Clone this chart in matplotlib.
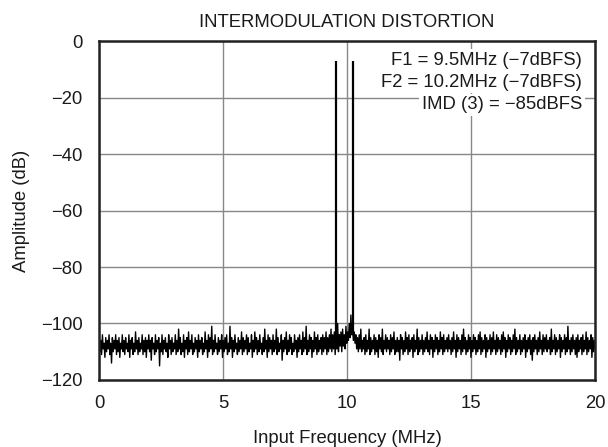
import numpy as np
import matplotlib.pyplot as plt

plt.rcParams['font.family'] = ['Liberation Sans', 'DejaVu Sans']

# noise floor, 30 bins per MHz (0 to 20 MHz)
noise_db = [
    -105, -110, -106, -111, -104, -109, -107, -112, -105, -110, -106, -109, -104, -111, -107, -114, -105, -110, -106, -109, -104, -111, -106, -110, -105, -112, -107, -109, -104, -110,
    -106, -111, -105, -109, -107, -110, -104, -112, -106, -109, -105, -111, -107, -110, -103, -109, -106, -111, -105, -110, -107, -109, -104, -111, -106, -110, -105, -112, -106, -109,
    -104, -110, -106, -113, -105, -109, -107, -111, -104, -110, -106, -109, -105, -115, -107, -110, -104, -111, -106, -109, -105, -110, -107, -112, -104, -109, -106, -111, -105, -110,
    -107, -109, -104, -111, -106, -110, -102, -109, -105, -111, -107, -110, -104, -112, -106, -109, -105, -111, -103, -110, -106, -109, -104, -111, -107, -110, -105, -109, -106, -112,
    -104, -110, -106, -109, -105, -111, -107, -110, -103, -109, -106, -112, -104, -110, -105, -109, -101, -111, -106, -110, -104, -109, -107, -111, -105, -110, -106, -109, -104, -112,
    -106, -110, -105, -109, -104, -111, -107, -110, -101, -109, -105, -112, -106, -110, -104, -109, -107, -111, -105, -110, -106, -109, -103, -111, -105, -110, -106, -109, -104, -111,
    -105, -110, -107, -109, -104, -112, -106, -110, -103, -109, -105, -111, -106, -110, -104, -109, -107, -111, -105, -110, -102, -109, -106, -112, -104, -110, -105, -109, -106, -111,
    -104, -110, -106, -109, -102, -111, -105, -110, -107, -109, -104, -113, -106, -110, -105, -109, -103, -111, -106, -110, -104, -109, -105, -111, -107, -110, -104, -109, -106, -112,
    -105, -110, -104, -109, -106, -111, -103, -110, -105, -109, -101, -111, -106, -110, -104, -109, -105, -112, -106, -110, -103, -109, -105, -111, -104, -110, -106, -109, -105, -111,
    -104, -110, -105, -109, -103, -111, -105, -110, -104, -109, -102, -110, -104, -109, -103, -111, -105, -109, -100, -110, -104, -108, -103, -110, -102, -108, -104, -109, -101, -107,
    -103, -106, -100, -105, -97, -104, -102, -106, -103, -107, -104, -109, -105, -110, -104, -109, -102, -110, -106, -109, -105, -111, -104, -110, -106, -109, -102, -111, -105, -110,
    -106, -109, -104, -111, -105, -110, -106, -112, -104, -109, -105, -110, -102, -111, -106, -109, -104, -110, -105, -109, -106, -111, -104, -110, -105, -109, -103, -111, -106, -110,
    -105, -110, -106, -113, -104, -109, -105, -111, -106, -110, -103, -109, -105, -111, -104, -110, -106, -109, -105, -112, -104, -110, -106, -109, -102, -111, -105, -110, -106, -109,
    -104, -111, -106, -110, -105, -109, -103, -110, -106, -111, -104, -109, -105, -112, -106, -110, -104, -109, -105, -111, -106, -110, -103, -109, -105, -111, -104, -110, -106, -109,
    -105, -110, -104, -109, -106, -111, -105, -110, -103, -109, -106, -112, -104, -110, -105, -109, -106, -111, -104, -110, -102, -109, -105, -111, -106, -110, -104, -109, -105, -112,
    -106, -110, -104, -109, -105, -111, -106, -110, -104, -109, -103, -111, -105, -110, -106, -109, -104, -112, -105, -110, -106, -109, -104, -111, -105, -110, -103, -109, -106, -111,
    -104, -110, -105, -109, -106, -111, -104, -110, -103, -109, -105, -112, -106, -110, -104, -109, -105, -111, -106, -110, -104, -109, -102, -111, -105, -110, -106, -109, -104, -111,
    -106, -110, -105, -109, -104, -112, -106, -110, -105, -109, -104, -111, -106, -113, -105, -110, -104, -109, -106, -111, -105, -110, -103, -109, -106, -111, -104, -110, -105, -109,
    -104, -110, -106, -109, -105, -111, -102, -110, -106, -109, -104, -111, -105, -110, -106, -109, -104, -112, -105, -110, -106, -109, -104, -111, -105, -110, -101, -109, -106, -111,
    -105, -110, -104, -109, -106, -111, -105, -112, -104, -110, -106, -109, -105, -111, -104, -110, -106, -109, -103, -111, -105, -110, -106, -109, -104, -112, -105, -110, -106, -109,
]
noise_freq = np.linspace(0, 20, len(noise_db))

# the two input tones
tone_freq = [9.55, 10.22]
tone_db = [-7, -7]
tone_base = [-105, -104]

notes = ['F1 = 9.5MHz (\u22127dBFS)', 'F2 = 10.2MHz (\u22127dBFS)', 'IMD (3) = \u221285dBFS']

fs = 13.3
ink = '#1a1a1a'

fig = plt.figure(figsize=(6.08, 4.47), dpi=100)
ax = fig.add_axes([0.163, 0.150, 0.816, 0.758])

ax.plot(noise_freq, noise_db, color='black', lw=1.0)
ax.vlines(tone_freq, tone_base, tone_db, color='black', lw=1.6)

ax.set_xlim(0, 20)
ax.set_ylim(-120, 0)
ax.set_xticks([0, 5, 10, 15, 20])
ax.set_yticks(range(-120, 1, 20))
ax.set_yticklabels(['\u2212120', '\u2212100', '\u221280', '\u221260', '\u221240', '\u221220', '0'])
ax.tick_params(length=0, labelsize=fs, colors=ink)
ax.tick_params(axis='x', pad=11)
ax.tick_params(axis='y', pad=12)
ax.grid(True, color='#888888', lw=1)
ax.set_axisbelow(True)
for s in ax.spines.values():
    s.set_linewidth(1.8)
    s.set_color('#222222')

ax.set_xlabel('Input Frequency (MHz)', fontsize=fs, color=ink, labelpad=13)
ax.set_ylabel('Amplitude (dB)', fontsize=fs, color=ink, labelpad=8)
ax.set_title('INTERMODULATION DISTORTION', fontsize=fs, color=ink, pad=10)

# one white-backed text per line, like the reference legend block
for yy, note in zip([0.944, 0.879, 0.812], notes):
    ax.text(0.974, yy, note, transform=ax.transAxes, ha='right', va='center',
            fontsize=fs, color=ink,
            bbox=dict(facecolor='white', edgecolor='none', pad=2))

fig.savefig('out.png', dpi=100)
